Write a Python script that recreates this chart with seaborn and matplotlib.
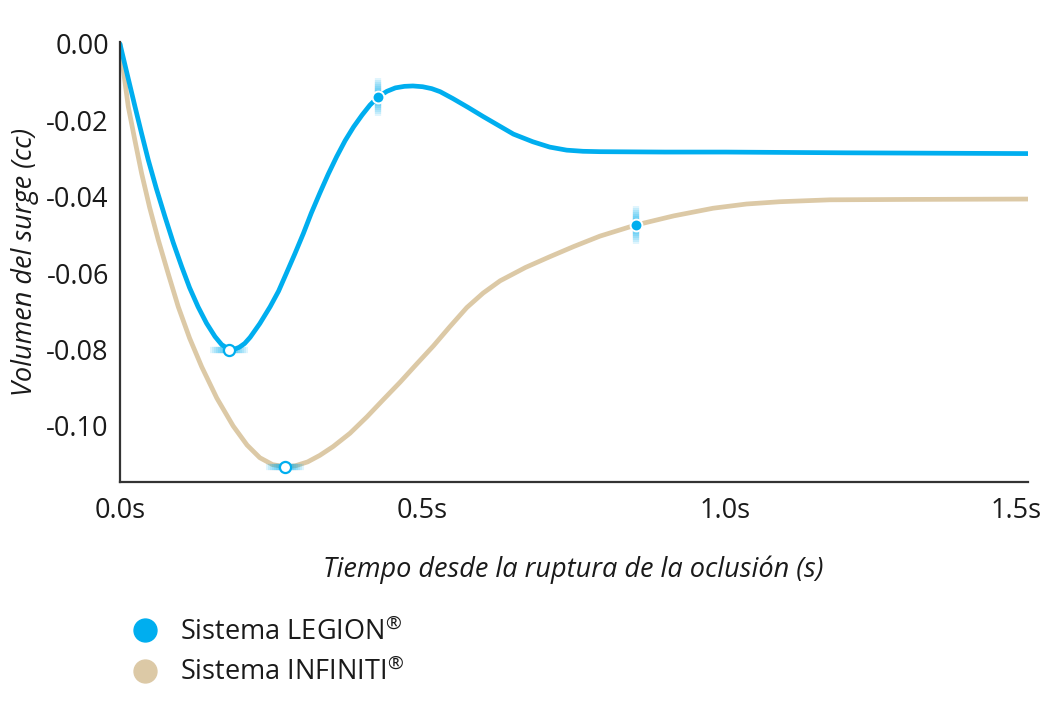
import numpy as np
import pandas as pd
import matplotlib.pyplot as plt
import matplotlib.transforms as mtransforms
import seaborn as sns
from matplotlib.lines import Line2D

# tiempo (s) y volumen (cc)
legion_t = [0.0, 0.0125, 0.0248, 0.0358, 0.0468, 0.060, 0.0743, 0.088, 0.102, 0.115,
            0.129, 0.143, 0.157, 0.168, 0.180, 0.189, 0.197, 0.206, 0.215, 0.231,
            0.248, 0.262, 0.275, 0.289, 0.303, 0.316, 0.330, 0.344, 0.358, 0.372,
            0.386, 0.400, 0.413, 0.427, 0.441, 0.455, 0.470, 0.484, 0.500, 0.515,
            0.529, 0.550, 0.575, 0.600, 0.625, 0.650, 0.682, 0.710, 0.738, 0.765,
            0.793, 0.9, 1.0, 1.2, 1.5]
legion_v = [0.0, -0.0083, -0.0164, -0.0235, -0.0304, -0.0378, -0.0452, -0.0520, -0.0583, -0.0638,
            -0.0688, -0.0731, -0.0766, -0.0787, -0.0799, -0.0799, -0.0794, -0.0784, -0.0768, -0.0732,
            -0.0688, -0.0647, -0.0600, -0.0549, -0.0496, -0.0443, -0.0391, -0.0341, -0.0295, -0.0253,
            -0.0217, -0.0186, -0.0160, -0.0138, -0.0124, -0.0115, -0.0111, -0.0110, -0.0112, -0.0117,
            -0.0125, -0.0143, -0.0166, -0.0190, -0.0213, -0.0236, -0.0256, -0.0270, -0.0278, -0.0281,
            -0.0282, -0.0283, -0.0283, -0.0285, -0.0287]

infiniti_t = [0.0, 0.007, 0.0137, 0.025, 0.0358, 0.049, 0.0633, 0.080, 0.0963, 0.115,
              0.135, 0.160, 0.187, 0.210, 0.231, 0.252, 0.273, 0.290, 0.310, 0.330,
              0.352, 0.380, 0.408, 0.435, 0.463, 0.490, 0.518, 0.545, 0.573, 0.600,
              0.628, 0.670, 0.710, 0.750, 0.793, 0.852, 0.915, 0.980, 1.035, 1.09,
              1.173, 1.3, 1.5]
infiniti_v = [0.0, -0.0085, -0.0164, -0.0255, -0.0339, -0.0428, -0.0513, -0.0603, -0.0688, -0.0770,
              -0.0845, -0.0927, -0.1000, -0.1050, -0.1083, -0.1101, -0.1107, -0.1104, -0.1094, -0.1077,
              -0.1054, -0.1019, -0.0976, -0.0931, -0.0885, -0.0838, -0.0790, -0.0740, -0.0690, -0.0652,
              -0.0620, -0.0585, -0.0557, -0.0530, -0.0503, -0.0474, -0.0450, -0.0430, -0.0419, -0.0413,
              -0.0408, -0.0407, -0.0406]

# puntos destacados
hl_t = [0.180, 0.273, 0.427, 0.852]
hl_v = [-0.0800, -0.1107, -0.0138, -0.0474]
hl_min = [True, True, False, False]

series_names = ["Sistema LEGION®", "Sistema INFINITI®"]
legend_labels = ["Sistema LEGION$^{®}$", "Sistema INFINITI$^{®}$"]
xticks = [0.0, 0.5, 1.0, 1.5]
xtick_labels = ["0.0s", "0.5s", "1.0s", "1.5s"]
yticks = [0.0, -0.02, -0.04, -0.06, -0.08, -0.10]
ytick_labels = ["0.00", "-0.02", "-0.04", "-0.06", "-0.08", "-0.10"]

BLUE = "#00AEEF"
BEIGE = "#DCC9A6"
TEXT = "#1a1a1a"
FS = 19.5

df = pd.concat([
    pd.DataFrame({"t": infiniti_t, "v": infiniti_v, "serie": series_names[1]}),
    pd.DataFrame({"t": legion_t, "v": legion_v, "serie": series_names[0]}),
])

sns.set_style("white")
plt.rcParams["font.family"] = ["Open Sans", "DejaVu Sans"]
plt.rcParams["mathtext.fontset"] = "custom"
plt.rcParams["mathtext.rm"] = "Open Sans"
plt.rcParams["mathtext.default"] = "rm"

fig = plt.figure(figsize=(10.57, 7.18), dpi=100)
ax = fig.add_axes([0.1135, 0.329, 0.859, 0.613])

sns.lineplot(data=df, x="t", y="v", hue="serie",
             palette={series_names[0]: BLUE, series_names[1]: BEIGE},
             hue_order=[series_names[1], series_names[0]], linewidth=3.4,
             sort=False, legend=False, ax=ax)

# brillo alrededor de los puntos
for t, v, is_min in zip(hl_t, hl_v, hl_min):
    mk = "_" if is_min else "|"
    for size in [28, 25, 22, 19, 16, 13, 10, 7]:
        ax.plot([t], [v], marker=mk, markersize=size, markeredgewidth=4.5,
                color=BLUE, alpha=0.12, linestyle="none", zorder=2.5)
    if is_min:
        ax.plot([t], [v], marker="o", markersize=8, markerfacecolor="white",
                markeredgecolor=BLUE, markeredgewidth=1.6, linestyle="none", zorder=5)
    else:
        ax.plot([t], [v], marker="o", markersize=8.5, markerfacecolor=BLUE,
                markeredgecolor="white", markeredgewidth=1.4, linestyle="none", zorder=5)

ax.set_xlim(0, 1.5)
ax.set_ylim(-0.1146, 0.0006)
ax.set_xticks(xticks)
ax.set_xticklabels(xtick_labels)
ax.set_yticks(yticks)
ax.set_yticklabels(ytick_labels)
ax.tick_params(axis="both", length=0, labelsize=FS, labelcolor=TEXT)
ax.tick_params(axis="y", pad=8)
ax.tick_params(axis="x", pad=11)

# la ultima etiqueta del eje x queda un poco hacia dentro
last = ax.get_xticklabels()[-1]
last.set_transform(last.get_transform() +
                   mtransforms.ScaledTranslation(-12 / 100, 0, fig.dpi_scale_trans))

for side in ["top", "right"]:
    ax.spines[side].set_visible(False)
for side in ["left", "bottom"]:
    ax.spines[side].set_color("#333333")
    ax.spines[side].set_linewidth(1.6)

ax.set_xlabel("Tiempo desde la ruptura de la oclusión (s)", fontsize=FS,
              fontstyle="italic", color=TEXT)
ax.set_ylabel("Volumen del surge (cc)", fontsize=FS, fontstyle="italic", color=TEXT)
ax.xaxis.label.set_va("center")
ax.yaxis.label.set_va("center")
ax.xaxis.set_label_coords(0.4995, -0.2007)
ax.yaxis.set_label_coords(-0.1046, 0.5)

handles = [Line2D([], [], marker="o", linestyle="none", markersize=16.5,
                  markerfacecolor=c, markeredgecolor=c) for c in [BLUE, BEIGE]]
fig.legend(handles, legend_labels, loc="upper left", bbox_to_anchor=(0.1244, 0.139),
           frameon=False, fontsize=FS, handlelength=1.0, handletextpad=0.8,
           labelspacing=0.45, borderpad=0, borderaxespad=0, labelcolor=TEXT)

fig.savefig("out.png", dpi=100)
